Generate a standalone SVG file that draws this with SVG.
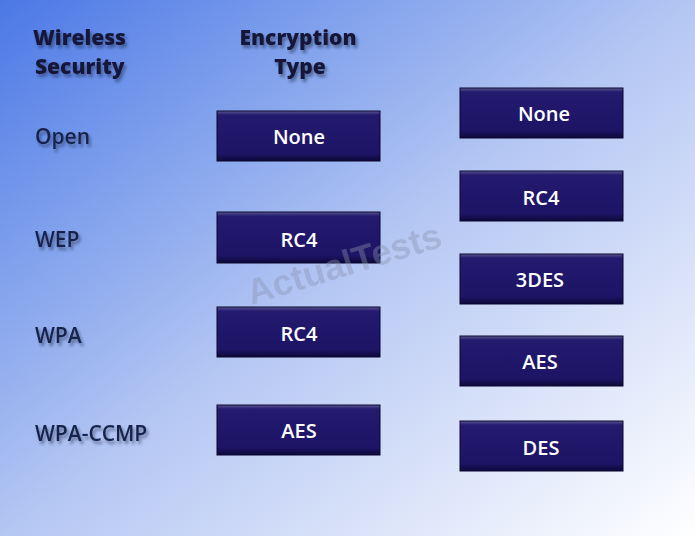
<svg xmlns="http://www.w3.org/2000/svg" width="695" height="536" viewBox="0 0 695 536">
<defs>
<linearGradient id="bg" x1="0" y1="0" x2="1" y2="1">
<stop offset="0" stop-color="#4c78e6"/>
<stop offset="0.25" stop-color="#7fa0ec"/>
<stop offset="0.5" stop-color="#b4c6f3"/>
<stop offset="1" stop-color="#ffffff"/>
</linearGradient>
<linearGradient id="btn" x1="0" y1="0" x2="0" y2="1">
<stop offset="0" stop-color="#5a5890"/>
<stop offset="0.08" stop-color="#241a6e"/>
<stop offset="0.85" stop-color="#1e1466"/>
<stop offset="1" stop-color="#0c0838"/>
</linearGradient>
<filter id="sh" x="-10%" y="-20%" width="130%" height="160%">
<feGaussianBlur in="SourceAlpha" stdDeviation="1.5"/>
<feOffset dx="2" dy="3" result="b"/>
<feFlood flood-color="#1a2540" flood-opacity="0.5"/>
<feComposite in2="b" operator="in"/>
<feMerge><feMergeNode/><feMergeNode in="SourceGraphic"/></feMerge>
</filter>
</defs>
<style>
.hd{font-family:"Open Sans","DejaVu Sans",sans-serif;font-weight:800;font-size:21px;fill:#14183a;filter:url(#sh)}
.lb{font-family:"Open Sans","DejaVu Sans",sans-serif;font-weight:600;font-size:21px;fill:#16244a;filter:url(#sh)}
.bx{fill:url(#btn);stroke:#0a0630;stroke-width:1}
.bt{font-family:"Open Sans","DejaVu Sans",sans-serif;font-size:20px;font-weight:600;fill:#ffffff;text-anchor:middle}
.wm{font-family:"Liberation Sans",Arial,sans-serif;font-weight:700;font-size:36px;fill:#8a93b0;opacity:0.4}
</style>
<rect width="695" height="536" fill="url(#bg)"/>
<g id="headers">
<text class="hd" x="33" y="45">Wireless</text>
<text class="hd" x="35" y="74">Security</text>
<text class="hd" x="298" y="45" text-anchor="middle">Encryption</text>
<text class="hd" x="300" y="74" text-anchor="middle">Type</text>
</g>
<g id="labels">
<text class="lb" x="35" y="144">Open</text>
<text class="lb" x="35" y="247">WEP</text>
<text class="lb" x="35" y="343">WPA</text>
<text class="lb" x="35" y="441">WPA-CCMP</text>
</g>
<g id="slot-open"><rect class="bx" x="217" y="111" width="163" height="50"/><text class="bt" x="299" y="144">None</text></g>
<g id="slot-wep"><rect class="bx" x="217" y="212" width="163" height="51"/><text class="bt" x="299" y="247">RC4</text></g>
<g id="slot-wpa"><rect class="bx" x="217" y="307" width="163" height="50"/><text class="bt" x="299" y="341">RC4</text></g>
<g id="slot-ccmp"><rect class="bx" x="217" y="405" width="163" height="50"/><text class="bt" x="299" y="438">AES</text></g>
<g id="opt-none"><rect class="bx" x="460" y="88" width="163" height="50"/><text class="bt" x="544" y="121">None</text></g>
<g id="opt-rc4"><rect class="bx" x="460" y="171" width="163" height="50"/><text class="bt" x="541" y="205">RC4</text></g>
<g id="opt-3des"><rect class="bx" x="460" y="254" width="163" height="50"/><text class="bt" x="540" y="287">3DES</text></g>
<g id="opt-aes"><rect class="bx" x="460" y="336" width="163" height="50"/><text class="bt" x="540" y="369">AES</text></g>
<g id="opt-des"><rect class="bx" x="460" y="421" width="163" height="50"/><text class="bt" x="541" y="455">DES</text></g>
<text class="wm" x="344" y="276" text-anchor="middle" transform="rotate(-17 344 264)">ActualTests</text>
<g id="connectors"/>
</svg>
